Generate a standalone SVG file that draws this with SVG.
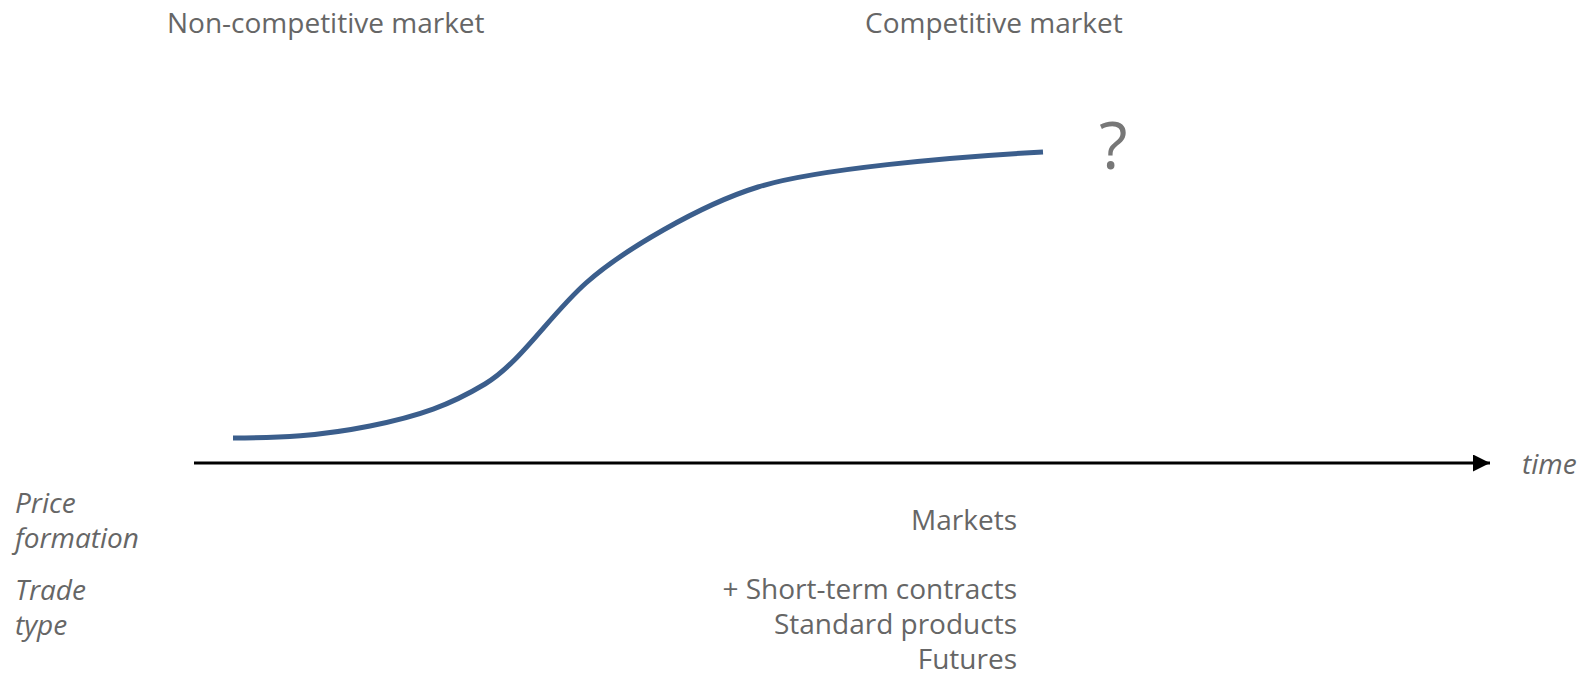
<svg xmlns="http://www.w3.org/2000/svg" width="1585" height="675" viewBox="0 0 1585 675">
<style>
.t{font-family:"Open Sans","DejaVu Sans",sans-serif;font-size:28px;fill:#666666}
.i{font-style:italic}
.r{text-anchor:end}
</style>
<defs>
<marker id="ah" viewBox="0 0 10 10" refX="10" refY="5" markerWidth="17" markerHeight="17" markerUnits="userSpaceOnUse" orient="auto">
<path d="M0,0 L10,5 L0,10 Z" fill="#000"/>
</marker>
</defs>
<rect width="1585" height="675" fill="#fff"/>
<g id="connectors">
<line x1="194" y1="463" x2="1490" y2="463" stroke="#000" stroke-width="3" marker-end="url(#ah)"/>
<path d="M233,438 C280,438 320,436 370,426 S450,405 485,384 S550,315 586,283 S700,205 758,187 S950,157 1043,152" fill="none" stroke="#3b5e8c" stroke-width="5"/>
</g>
<g id="label-noncompetitive"><text class="t" x="167" y="33">Non-competitive market</text></g>
<g id="label-competitive"><text class="t" x="865" y="33">Competitive market</text></g>
<g id="label-question"><text class="t" x="1099" y="169" style="font-size:66px;fill:#777">?</text></g>
<g id="label-time"><text class="t i" x="1522" y="474">time</text></g>
<g id="label-price"><text class="t i" x="15" y="513">Price</text><text class="t i" x="15" y="548">formation</text></g>
<g id="label-trade"><text class="t i" x="15" y="600">Trade</text><text class="t i" x="15" y="635">type</text></g>
<g id="label-markets"><text class="t r" x="1017" y="530">Markets</text></g>
<g id="label-tradetypes"><text class="t r" x="1017" y="599">+ Short-term contracts</text><text class="t r" x="1017" y="634">Standard products</text><text class="t r" x="1017" y="669">Futures</text></g>
</svg>
